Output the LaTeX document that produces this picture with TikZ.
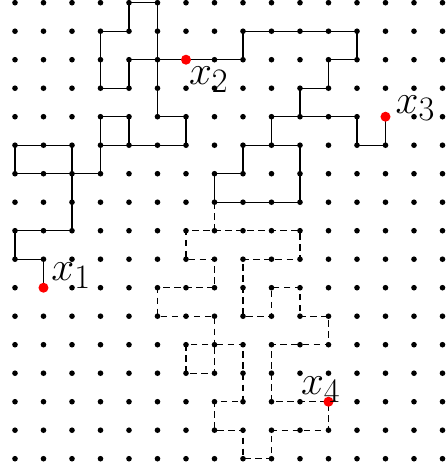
\documentclass[tikz,border=0pt]{standalone}
\usepackage{amsmath}
\usepackage{graphicx}
\usepackage{xcolor}
\usetikzlibrary{calc}

\newcommand{\biglbl}[1]{\scalebox{1.65}{\Huge$#1$}}

\begin{document}
\begin{tikzpicture}[
    x=1cm, y=1cm,
    gridpt/.style={fill=black},
    walk/.style={line width=1.3pt, line join=round},
    dashwalk/.style={walk, dash pattern=on 6.5pt off 4.5pt},
    hit/.style={circle, fill=red, inner sep=0pt, minimum size=10pt},
    lbl/.style={inner sep=0pt, anchor=base west},
]
    \useasboundingbox (-0.526,-16.607) rectangle (15.123,0.095);

    % lattice points, g-column-row (row counted from the top)
    \foreach \i in {0,...,15}
        \foreach \j in {0,...,16} {
            \coordinate (g-\i-\j) at (\i,-\j);
            \fill[gridpt] (g-\i-\j) circle (2.8pt);
        }

    % solid walk x1 -> x2
    \draw[walk] (g-1-10) -- (g-1-9) -- (g-0-9) -- (g-0-8) -- (g-1-8) -- (g-2-8)
        -- (g-2-7) -- (g-2-6) -- (g-1-6) -- (g-0-6) -- (g-0-5) -- (g-1-5) -- (g-2-5)
        -- (g-2-6) -- (g-3-6) -- (g-3-5) -- (g-4-5) -- (g-4-4) -- (g-3-4) -- (g-3-5)
        -- (g-4-5) -- (g-5-5) -- (g-6-5) -- (g-6-4) -- (g-5-4) -- (g-5-3) -- (g-5-2)
        -- (g-5-1) -- (g-5-0) -- (g-4-0) -- (g-4-1) -- (g-3-1) -- (g-3-2) -- (g-3-3)
        -- (g-4-3) -- (g-4-2) -- (g-5-2) -- (g-6-2);
    % solid walk x2 -> x3
    \draw[walk] (g-6-2) -- (g-7-2) -- (g-8-2) -- (g-8-1) -- (g-9-1) -- (g-10-1)
        -- (g-11-1) -- (g-12-1) -- (g-12-2) -- (g-11-2) -- (g-11-3) -- (g-10-3)
        -- (g-10-4) -- (g-11-4) -- (g-12-4) -- (g-12-5) -- (g-13-5) -- (g-13-4);
    \draw[walk] (g-10-4) -- (g-9-4) -- (g-9-5) -- (g-8-5) -- (g-8-6) -- (g-7-6)
        -- (g-7-7) -- (g-8-7) -- (g-9-7) -- (g-10-7) -- (g-10-6) -- (g-10-5) -- (g-9-5);

    % dashed walk down to x4
    \draw[dashwalk] (g-7-7) -- (g-7-8) -- (g-6-8) -- (g-6-9) -- (g-7-9) -- (g-7-10)
        -- (g-6-10) -- (g-5-10) -- (g-5-11) -- (g-6-11) -- (g-7-11) -- (g-7-12)
        -- (g-6-12) -- (g-6-13) -- (g-7-13) -- (g-7-12) -- (g-8-12) -- (g-8-13)
        -- (g-8-14) -- (g-7-14) -- (g-7-15) -- (g-8-15) -- (g-8-16) -- (g-9-16)
        -- (g-9-15) -- (g-10-15) -- (g-11-15) -- (g-11-14) -- (g-10-14) -- (g-9-14)
        -- (g-9-13) -- (g-9-12) -- (g-10-12) -- (g-11-12) -- (g-11-11) -- (g-10-11)
        -- (g-10-10) -- (g-9-10) -- (g-9-11) -- (g-8-11) -- (g-8-10) -- (g-8-9)
        -- (g-9-9) -- (g-10-9) -- (g-10-8) -- (g-9-8) -- (g-8-8) -- (g-7-8);

    % marked points
    \node[hit] (x1) at (g-1-10) {};
    \node[hit] (x2) at (g-6-2) {};
    \node[hit] (x3) at (g-13-4) {};
    \node[hit] (x4) at (g-11-14) {};

    \node[lbl] (x1lab) at ($(x1)+(0.27,0.25)$) {\biglbl{x_1}};
    \node[lbl] (x2lab) at ($(x2)+(0.10,-0.88)$) {\biglbl{x_2}};
    \node[lbl] (x3lab) at ($(x3)+(0.35,0.13)$) {\biglbl{x_3}};
    \node[lbl] (x4lab) at ($(x4)+(-0.97,0.25)$) {\biglbl{x_4}};
\end{tikzpicture}
\end{document}
